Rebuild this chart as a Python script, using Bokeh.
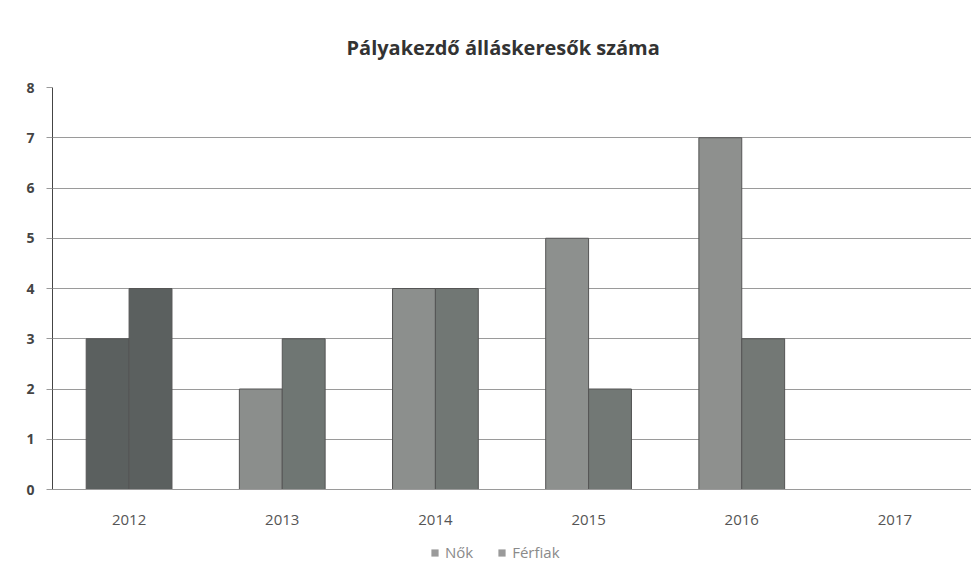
from bokeh.plotting import figure
from bokeh.layouts import column
from bokeh.models import ColumnDataSource, Range1d, FactorRange, Legend, LegendItem
from bokeh.transform import dodge
from bokeh.embed import file_html
from bokeh.resources import INLINE

years = ["2012", "2013", "2014", "2015", "2016", "2017"]
nok = [3, 2, 4, 5, 7, 0]
ferfiak = [4, 3, 4, 2, 3, 0]
series_names = ["Nők", "Férfiak"]
title_text = "Pályakezdő álláskeresők száma"

nok_colors = ["#5b605f", "#8b8e8c", "#8c8f8d", "#8d908e", "#8e908e", "#8e908e"]
ferfi_colors = ["#5b605f", "#6f7673", "#717774", "#727875", "#737875", "#737875"]

src = ColumnDataSource(dict(years=years, nok=nok, ferfiak=ferfiak,
                            nc=nok_colors, fc=ferfi_colors))

p = figure(width=971, height=540, output_backend="svg", toolbar_location=None,
           x_range=FactorRange(*years), y_range=Range1d(0, 8),
           min_border_left=52, min_border_right=0, min_border_top=87,
           min_border_bottom=51)

p.title.text = title_text
p.title.align = "left"
p.title.offset = 294
p.title.text_font = "Open Sans"
p.title.text_font_size = "20px"
p.title.text_font_style = "bold"
p.title.text_color = "#333333"
p.title.standoff = 53

p.vbar(x=dodge("years", -0.14, range=p.x_range), top="nok", width=0.28, source=src,
       fill_color="nc", line_color="#555555", line_width=1)
p.vbar(x=dodge("years", 0.14, range=p.x_range), top="ferfiak", width=0.28, source=src,
       fill_color="fc", line_color="#555555", line_width=1)

p.ygrid.grid_line_color = "#9a9a9a"
p.ygrid.grid_line_width = 1
p.xgrid.grid_line_color = None
p.outline_line_color = None

p.yaxis.ticker = list(range(0, 9))
p.yaxis.axis_line_color = "#444444"
p.yaxis.major_tick_line_color = "#9a9a9a"
p.yaxis.major_tick_out = 6
p.yaxis.major_tick_in = 0
p.yaxis.minor_tick_line_color = None
p.yaxis.major_label_text_font = "Open Sans"
p.yaxis.major_label_text_font_size = "14px"
p.yaxis.major_label_text_font_style = "bold"
p.yaxis.major_label_text_color = "#444444"
p.yaxis.major_label_standoff = 12

p.xaxis.axis_line_color = "#9a9a9a"
p.xaxis.major_tick_line_color = None
p.xaxis.minor_tick_line_color = None
p.xaxis.major_label_text_font = "Open Sans"
p.xaxis.major_label_text_font_size = "15px"
p.xaxis.major_label_text_color = "#555555"
p.xaxis.major_label_standoff = 19

# legend strip below the chart
lf = figure(width=971, height=26, output_backend="svg", toolbar_location=None,
            x_range=Range1d(0, 1), y_range=Range1d(0, 1),
            x_axis_type=None, y_axis_type=None,
            min_border_left=0, min_border_right=0, min_border_top=0, min_border_bottom=0)
lf.outline_line_color = None
lf.grid.grid_line_color = None
r1 = lf.quad(left=[-5], right=[-4], bottom=[-5], top=[-4], fill_color="#9a9a9a", line_color=None)
r2 = lf.quad(left=[-5], right=[-4], bottom=[-5], top=[-4], fill_color="#9a9a9a", line_color=None)
legend = Legend(items=[LegendItem(label=series_names[0], renderers=[r1]),
                       LegendItem(label=series_names[1], renderers=[r2])],
                orientation="horizontal", location=(378, 4),
                label_text_font="Open Sans", label_text_font_size="15px",
                label_text_color="#8a8a8a", glyph_width=9, glyph_height=9,
                spacing=24, label_standoff=6, border_line_color=None,
                background_fill_alpha=0, margin=0, padding=2)
lf.add_layout(legend, "center")

layout = column(p, lf, spacing=0)
open("out.html", "w").write(file_html(layout, INLINE))
